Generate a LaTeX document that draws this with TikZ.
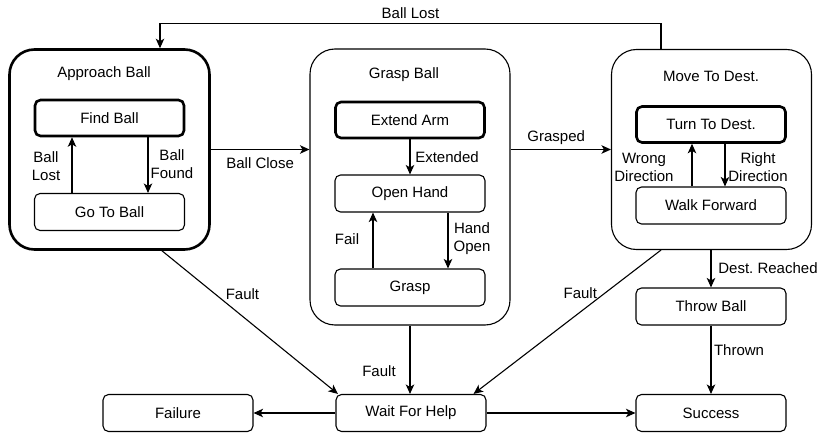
\documentclass[tikz,border=0pt]{standalone}
\usepackage{fontspec}
\setmainfont{Liberation Sans}
\usetikzlibrary{arrows.meta}
\frenchspacing

\tikzset{
  base/.style={draw=black, line width=1.1pt, fill=white, font=\fontsize{15}{18}\selectfont},
  group/.style={base, rounded corners=25pt, minimum width=200pt, minimum height=200pt},
  groupthick/.style={group, line width=2.6pt},
  state/.style={base, rounded corners=5.5pt, minimum width=150pt, minimum height=37pt, inner sep=0pt},
  initial/.style={state, line width=2.6pt, minimum width=149pt, minimum height=36pt},
  title/.style={font=\fontsize{15}{18}\selectfont, inner sep=0pt},
  lbl/.style={font=\fontsize{15}{18}\selectfont, inner sep=0pt, align=center},
  arr/.style={draw=black, line width=1.1pt, -{Stealth[length=9.5pt,width=8.5pt,inset=2.5pt]}},
}

\begin{document}
\begin{tikzpicture}[x=1pt, y=-1pt]
\useasboundingbox (0,0) rectangle (819,433);

% composite states
\node[groupthick] (appr) at (109.5,149.5) {};
\node[group, minimum height=276pt] (grasp) at (410,187) {};
\node[group] (move) at (711.5,149.5) {};

\node[title] (apprtitle) at (104,74) {Approach Ball};
\node[title] (grasptitle) at (404,75) {Grasp Ball};
\node[title] (movetitle) at (711,76) {Move To Dest.};

% inner states
\node[initial] (findball) at (109.5,118) {Find Ball};
\node[state] (gotoball) at (109.5,212) {Go To Ball};

\node[initial] (extendarm) at (410,120) {Extend Arm};
\node[state] (openhand) at (410,193.5) {Open Hand};
\node[state] (graspst) at (410,287.5) {Grasp};

\node[initial] (turn) at (711,124.5) {Turn To Dest.};
\node[state] (walk) at (711,205.5) {Walk Forward};

% outer states
\node[state] (throw) at (711,306.5) {Throw Ball};
\node[state] (success) at (711,413) {Success};
\node[state] (wfh) at (411,413) {Wait For Help};
\node[state] (failure) at (178,413) {Failure};

% transitions inside Approach Ball
\draw[arr] ([xshift=-37.5pt]gotoball.north) -- node[lbl, xshift=-26pt, yshift=-1pt] (lbllost) {Ball\\Lost} ([xshift=-37.5pt]findball.south);
\draw[arr] ([xshift=38.5pt]findball.south) -- node[lbl, xshift=24pt, yshift=1pt] (lblfound) {Ball\\Found} ([xshift=38.5pt]gotoball.north);

% transitions inside Grasp Ball
\draw[arr] (extendarm.south) -- node[lbl, xshift=37pt] (lblext) {Extended} (openhand.north);
\draw[arr] ([xshift=-37pt]graspst.north) -- node[lbl, xshift=-26pt, yshift=1pt] (lblfail) {Fail} ([xshift=-37pt]openhand.south);
\draw[arr] ([xshift=38pt]openhand.south) -- node[lbl, xshift=24pt, yshift=2pt] (lblopen) {Hand\\Open} ([xshift=38pt]graspst.north);

% transitions inside Move To Dest.
\draw[arr] ([xshift=-19pt]walk.north) -- node[lbl, xshift=-48pt, yshift=-2pt] (lblwrong) {Wrong\\Direction} ([xshift=-19pt]turn.south);
\draw[arr] ([xshift=14pt]turn.south) -- node[lbl, xshift=33pt, yshift=-2pt] (lblright) {Right\\Direction} ([xshift=14pt]walk.north);

% transitions between composite states
\draw[arr] (appr.east) -- node[lbl, yshift=-14pt] (lblclose) {Ball Close} (grasp.west |- appr.east);
\draw[arr] (grasp.east |- move.west) -- node[lbl, xshift=-4.5pt, yshift=12pt] (lblgrasped) {Grasped} (move.west);
\draw[arr] ([xshift=-50.5pt]move.north) -- ++(0,-25) -| node[lbl, pos=0.25, yshift=11pt] (lbllostall) {Ball Lost} ([xshift=50.5pt]appr.north);

\draw[arr] (move.south -| throw.north) -- node[lbl, xshift=57pt, yshift=1pt] (lblreached) {Dest. Reached} (throw.north);
\draw[arr] (throw.south) -- node[lbl, xshift=28pt, yshift=9.5pt] (lblthrown) {Thrown} (success.north);

% faults
\draw[arr] ([xshift=52.5pt]appr.south) -- node[lbl, xshift=-7.5pt, yshift=28.5pt] (lblfault1) {Fault} ([xshift=2.5pt]wfh.north west);
\draw[arr] (grasp.south) -- node[lbl, xshift=-31pt, yshift=-11pt] (lblfault2) {Fault} (grasp.south |- wfh.north);
\draw[arr] ([xshift=-50.5pt]move.south) -- node[lbl, xshift=13pt, yshift=29pt] (lblfault3) {Fault} ([xshift=-13pt]wfh.north east);

% final outcomes
\draw[arr] (wfh.west) -- (failure.east);
\draw[arr] (wfh.east) -- (success.west);
\end{tikzpicture}
\end{document}
